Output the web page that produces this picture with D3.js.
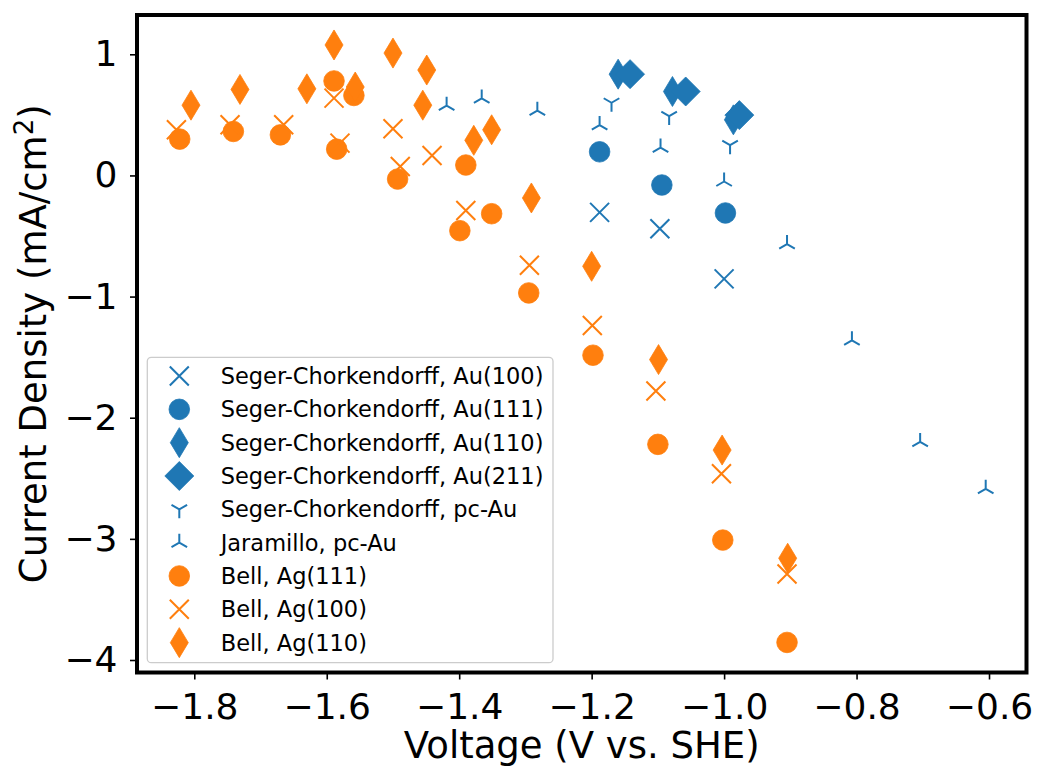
<!DOCTYPE html>
<html>
<head>
<meta charset="utf-8">
<script src="https://cdn.jsdelivr.net/npm/d3@7"></script>
<style>
    body { margin: 0; background: #fff; }
    svg { display: block; font-family: "DejaVu Sans", sans-serif; }
</style>
</head>
<body>
<div class="js-canvas"></div>
<script>
'use strict';

// data (V vs. SHE, mA/cm2)
const au100V = [-1.188, -1.097, -1.0];
const au100J = [-0.305, -0.44, -0.854];
const au111V = [-1.188, -1.094, -0.998];
const au111J = [0.195, -0.079, -0.31];
const au110V = [-1.16, -1.078, -0.986];
const au110J = [0.836, 0.693, 0.459];
const au211V = [-1.142, -1.058, -0.977];
const au211J = [0.836, 0.693, 0.498];
const pcAuV = [-1.17, -1.083, -0.991];
const pcAuJ = [0.60, 0.49, 0.25];
const jaramilloV = [-1.419, -1.366, -1.282, -1.188, -1.096, -1.0, -0.905, -0.807, -0.704, -0.605];
const jaramilloJ = [0.576, 0.636, 0.535, 0.416, 0.23, -0.05, -0.567, -1.361, -2.2, -2.587];
const ag111V = [-1.822, -1.741, -1.670, -1.589, -1.559, -1.585, -1.493, -1.390, -1.399, -1.351, -1.295, -1.198, -1.100, -1.002, -0.905];
const ag111J = [0.30, 0.363, 0.335, 0.78, 0.66, 0.217, -0.03, 0.086, -0.456, -0.316, -0.97, -1.484, -2.22, -3.01, -3.855];
const ag100V = [-1.827, -1.746, -1.665, -1.589, -1.580, -1.50, -1.489, -1.441, -1.390, -1.294, -1.199, -1.103, -1.004, -0.905];
const ag100J = [0.377, 0.418, 0.418, 0.638, 0.267, 0.385, 0.074, 0.165, -0.289, -0.742, -1.239, -1.78, -2.462, -3.29];
const ag110V = [-1.805, -1.731, -1.630, -1.589, -1.557, -1.50, -1.455, -1.449, -1.378, -1.351, -1.291, -1.2, -1.099, -1.003, -0.904];
const ag110J = [0.58, 0.71, 0.715, 1.077, 0.73, 1.01, 0.58, 0.87, 0.29, 0.377, -0.186, -0.75, -1.52, -2.267, -3.16];

const seriesNames = [
    'Seger-Chorkendorff, Au(100)',
    'Seger-Chorkendorff, Au(111)',
    'Seger-Chorkendorff, Au(110)',
    'Seger-Chorkendorff, Au(211)',
    'Seger-Chorkendorff, pc-Au',
    'Jaramillo, pc-Au',
    'Bell, Ag(111)',
    'Bell, Ag(100)',
    'Bell, Ag(110)'
];

const xTicks = [-1.8, -1.6, -1.4, -1.2, -1.0, -0.8, -0.6];
const yTicks = [1, 0, -1, -2, -3, -4];

const blue = '#1f77b4';
const orange = '#ff7f0e';

const config = {
    width: 1039,
    height: 772,
    plot: { left: 137, top: 15, right: 1026.5, bottom: 672.5 },
    xDomain: [-1.8865, -0.5434],
    yDomain: [-4.1032, 1.3244],
    tickFont: 36,
    labelFont: 37,
    legendFont: 22.5
};

// marker paths, centred on 0,0
const markers = {
    circle: { d: 'M10.3,0A10.3,10.3 0 1,1 -10.3,0A10.3,10.3 0 1,1 10.3,0Z', fill: true },
    x: { d: 'M-9.5,-9.5L9.5,9.5M-9.5,9.5L9.5,-9.5', fill: false },
    thinDiamond: { d: 'M0,-15L9,0L0,15L-9,0Z', fill: true },
    diamond: { d: 'M0,-14.5L14.5,0L0,14.5L-14.5,0Z', fill: true },
    triDown: { d: 'M0,0L0,9M0,0L-7.8,-4.5M0,0L7.8,-4.5', fill: false },
    triUp: { d: 'M0,0L0,-9M0,0L-7.8,4.5M0,0L7.8,4.5', fill: false }
};

const series = [
    { name: seriesNames[0], v: au100V, j: au100J, color: blue, marker: 'x' },
    { name: seriesNames[1], v: au111V, j: au111J, color: blue, marker: 'circle' },
    { name: seriesNames[2], v: au110V, j: au110J, color: blue, marker: 'thinDiamond' },
    { name: seriesNames[3], v: au211V, j: au211J, color: blue, marker: 'diamond' },
    { name: seriesNames[4], v: pcAuV, j: pcAuJ, color: blue, marker: 'triDown' },
    { name: seriesNames[5], v: jaramilloV, j: jaramilloJ, color: blue, marker: 'triUp' },
    { name: seriesNames[6], v: ag111V, j: ag111J, color: orange, marker: 'circle' },
    { name: seriesNames[7], v: ag100V, j: ag100J, color: orange, marker: 'x' },
    { name: seriesNames[8], v: ag110V, j: ag110J, color: orange, marker: 'thinDiamond' }
];

const svg = d3.select('.js-canvas')
    .append('svg')
    .attr('width', config.width)
    .attr('height', config.height)
    ;

const p = config.plot;

const x = d3.scaleLinear()
    .domain(config.xDomain)
    .range([p.left, p.right])
    ;

const y = d3.scaleLinear()
    .domain(config.yDomain)
    .range([p.bottom, p.top])
    ;

// axes
const xAxis = d3.axisBottom(x)
    .tickValues(xTicks)
    .tickSize(7)
    .tickPadding(14)
    .tickFormat(d3.format('.1f'))
    ;

const yAxis = d3.axisLeft(y)
    .tickValues(yTicks)
    .tickSize(7)
    .tickPadding(12.5)
    .tickFormat(d3.format('d'))
    ;

const xAxisGroup = svg.append('g')
    .attr('transform', `translate(0, ${p.bottom})`)
    .call(xAxis);

const yAxisGroup = svg.append('g')
    .attr('transform', `translate(${p.left}, 0)`)
    .call(yAxis);

[xAxisGroup, yAxisGroup].forEach(g => {
    g.select('.domain').remove();
    g.selectAll('line').attr('stroke', '#000').attr('stroke-width', 1.6);
    g.selectAll('text')
        .attr('fill', '#000')
        .style('font-family', '"DejaVu Sans", sans-serif')
        .style('font-size', config.tickFont + 'px');
});

// axis labels
svg.append('text')
    .attr('x', (p.left + p.right) / 2)
    .attr('y', 758)
    .attr('text-anchor', 'middle')
    .style('font-size', config.labelFont + 'px')
    .text('Voltage (V vs. SHE)');

const yLabel = svg.append('text')
    .attr('transform', `translate(46, ${(p.top + p.bottom) / 2}) rotate(-90)`)
    .attr('text-anchor', 'middle')
    .style('font-size', config.labelFont + 'px');
yLabel.append('tspan').text('Current Density (mA/cm');
yLabel.append('tspan').attr('dy', -13).style('font-size', '26px').text('2');
yLabel.append('tspan').attr('dy', 13).text(')');

// points
const plotArea = svg.append('g');

series.forEach(s => {
    const m = markers[s.marker];
    plotArea.append('g')
        .selectAll('path')
        .data(s.v.map((v, i) => ({ v: v, j: s.j[i] })))
        .enter()
        .append('path')
        .attr('transform', d => `translate(${x(d.v)}, ${y(d.j)})`)
        .attr('d', m.d)
        .attr('fill', m.fill ? s.color : 'none')
        .attr('stroke', s.color)
        .attr('stroke-width', m.fill ? 0.8 : 2)
        ;
});

// frame
svg.append('rect')
    .attr('x', p.left)
    .attr('y', p.top)
    .attr('width', p.right - p.left)
    .attr('height', p.bottom - p.top)
    .attr('fill', 'none')
    .attr('stroke', '#000')
    .attr('stroke-width', 4)
    ;

// legend
const legend = svg.append('g');

legend.append('rect')
    .attr('x', 147.3)
    .attr('y', 357.3)
    .attr('width', 405.7)
    .attr('height', 305.4)
    .attr('rx', 4)
    .attr('fill', '#fff')
    .attr('fill-opacity', 0.8)
    .attr('stroke', '#cccccc')
    .attr('stroke-width', 1.3)
    ;

const rows = legend.selectAll('g.row')
    .data(series)
    .enter()
    .append('g')
    .attr('class', 'row')
    .attr('transform', (d, i) => `translate(179.3, ${376 + i * 33.33})`)
    ;

rows.append('path')
    .attr('d', d => markers[d.marker].d)
    .attr('fill', d => markers[d.marker].fill ? d.color : 'none')
    .attr('stroke', d => d.color)
    .attr('stroke-width', d => markers[d.marker].fill ? 0.8 : 2)
    ;

rows.append('text')
    .attr('x', 41.4)
    .attr('y', 8)
    .style('font-size', config.legendFont + 'px')
    .text(d => d.name)
    ;
</script>
</body>
</html>
